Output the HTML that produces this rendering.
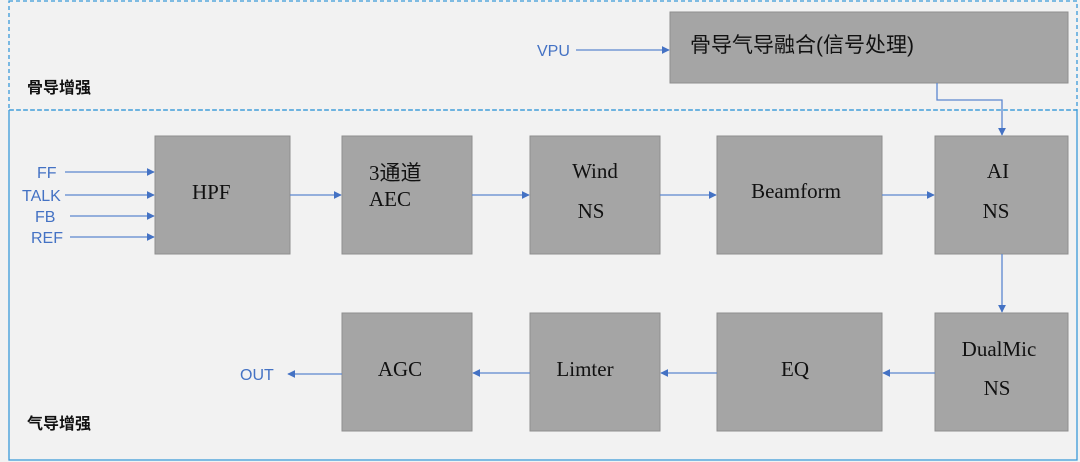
<!DOCTYPE html>
<html><head><meta charset="utf-8"><style>
html,body{margin:0;padding:0;background:#fff}
svg{display:block}
.b{fill:#a5a5a5;stroke:#8f8f8f;stroke-width:1}
.t{font-family:"Liberation Serif","Noto Serif CJK SC",serif;font-size:21px;fill:#111}
.c{font-family:"Liberation Sans","Noto Sans CJK SC",sans-serif;font-size:21px;fill:#111}
.l{font-family:"Liberation Sans","Noto Sans CJK SC",sans-serif;font-size:16px;fill:#4472c4}
.h{font-family:"Liberation Sans","Noto Sans CJK SC",sans-serif;font-size:16px;font-weight:bold;fill:#111}
.a{stroke:#5b87d0;stroke-width:1.3;fill:none}
</style></head><body>
<svg width="1080" height="462" viewBox="0 0 1080 462" xmlns="http://www.w3.org/2000/svg">
<defs><marker id="m" viewBox="0 0 10 10" refX="9" refY="5" markerWidth="8" markerHeight="8" markerUnits="userSpaceOnUse" orient="auto"><path d="M0,0L10,5L0,10z" fill="#4472c4"/></marker></defs>
<rect x="0" y="0" width="1080" height="462" fill="#f2f2f2"/>
<rect x="9" y="1" width="1068" height="109" fill="none" stroke="#3a9ad9" stroke-width="1.3" stroke-dasharray="4,3"/>
<path d="M9,110V460H1077V110" fill="none" stroke="#3a9ad9" stroke-width="1.3"/>
<line x1="9" y1="110" x2="1077" y2="110" stroke="#3a9ad9" stroke-width="1.3" stroke-dasharray="4,3"/>
<text class="h" x="27" y="93">骨导增强</text>
<text class="h" x="27" y="429">气导增强</text>
<rect class="b" x="670" y="12" width="398" height="71"/>
<text class="c" x="690" y="52">骨导气导融合(信号处理)</text>
<text class="l" x="537" y="56">VPU</text>
<line class="a" x1="576" y1="50" x2="669" y2="50" marker-end="url(#m)"/>
<path class="a" d="M937,83V100H1002V135" marker-end="url(#m)"/>
<rect class="b" x="155" y="136" width="135" height="118"/>
<rect class="b" x="342" y="136" width="130" height="118"/>
<rect class="b" x="530" y="136" width="130" height="118"/>
<rect class="b" x="717" y="136" width="165" height="118"/>
<rect class="b" x="935" y="136" width="133" height="118"/>
<text class="t" x="192" y="199">HPF</text>
<text class="t" x="369" y="180" style="font-family:'Liberation Serif','Noto Sans CJK SC',serif">3通道</text>
<text class="t" x="369" y="206">AEC</text>
<text class="t" x="595" y="178" text-anchor="middle">Wind</text>
<text class="t" x="591" y="218" text-anchor="middle">NS</text>
<text class="t" x="796" y="198" text-anchor="middle">Beamform</text>
<text class="t" x="998" y="178" text-anchor="middle">AI</text>
<text class="t" x="996" y="218" text-anchor="middle">NS</text>
<text class="l" x="37" y="178">FF</text>
<text class="l" x="22" y="201">TALK</text>
<text class="l" x="35" y="222">FB</text>
<text class="l" x="31" y="243">REF</text>
<line class="a" x1="65" y1="172" x2="154" y2="172" marker-end="url(#m)"/>
<line class="a" x1="65" y1="195" x2="154" y2="195" marker-end="url(#m)"/>
<line class="a" x1="70" y1="216" x2="154" y2="216" marker-end="url(#m)"/>
<line class="a" x1="70" y1="237" x2="154" y2="237" marker-end="url(#m)"/>
<line class="a" x1="290" y1="195" x2="341" y2="195" marker-end="url(#m)"/>
<line class="a" x1="472" y1="195" x2="529" y2="195" marker-end="url(#m)"/>
<line class="a" x1="660" y1="195" x2="716" y2="195" marker-end="url(#m)"/>
<line class="a" x1="882" y1="195" x2="934" y2="195" marker-end="url(#m)"/>
<line class="a" x1="1002" y1="254" x2="1002" y2="312" marker-end="url(#m)"/>
<rect class="b" x="342" y="313" width="130" height="118"/>
<rect class="b" x="530" y="313" width="130" height="118"/>
<rect class="b" x="717" y="313" width="165" height="118"/>
<rect class="b" x="935" y="313" width="133" height="118"/>
<text class="t" x="400" y="376" text-anchor="middle">AGC</text>
<text class="t" x="585" y="376" text-anchor="middle">Limter</text>
<text class="t" x="795" y="376" text-anchor="middle">EQ</text>
<text class="t" x="999" y="356" text-anchor="middle">DualMic</text>
<text class="t" x="997" y="395" text-anchor="middle">NS</text>
<text class="l" x="240" y="380">OUT</text>
<line class="a" x1="935" y1="373" x2="883" y2="373" marker-end="url(#m)"/>
<line class="a" x1="717" y1="373" x2="661" y2="373" marker-end="url(#m)"/>
<line class="a" x1="530" y1="373" x2="473" y2="373" marker-end="url(#m)"/>
<line class="a" x1="342" y1="374" x2="288" y2="374" marker-end="url(#m)"/>
</svg>
</body></html>
